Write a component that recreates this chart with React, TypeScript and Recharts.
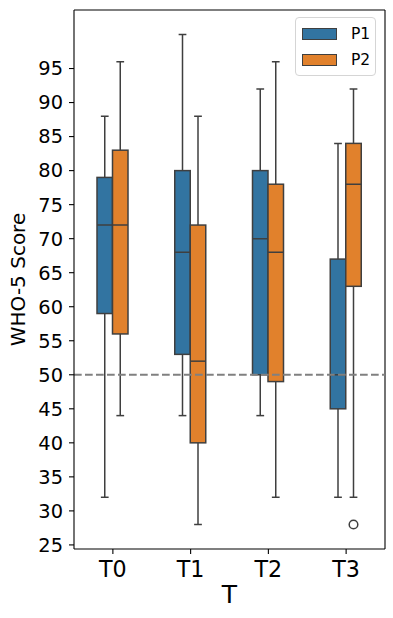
import React from 'react';
import { ComposedChart, Bar, XAxis, YAxis, ReferenceLine, Legend, CartesianGrid } from 'recharts';

// timepoints
const categories = ['T0', 'T1', 'T2', 'T3'];

// P1 box stats (whisker low, Q1, median, Q3, whisker high)
const p1Low = [32, 44, 44, 32];
const p1Q1 = [59, 53, 50, 45];
const p1Median = [72, 68, 70, 50];
const p1Q3 = [79, 80, 80, 67];
const p1High = [88, 100, 92, 84];
const p1Outliers: number[][] = [[], [], [], []];

// P2 box stats
const p2Low = [44, 28, 32, 32];
const p2Q1 = [56, 40, 49, 63];
const p2Median = [72, 52, 68, 78];
const p2Q3 = [83, 72, 78, 84];
const p2High = [96, 88, 96, 92];
const p2Outliers: number[][] = [[], [], [], [28]];

const yTicks = [25, 30, 35, 40, 45, 50, 55, 60, 65, 70, 75, 80, 85, 90, 95];
const threshold = 50;

const BLUE = '#3274a1';
const ORANGE = '#e1812c';
const EDGE = '#3f3f3f';

const seriesList = [
    { key: 'p1', name: 'P1', color: BLUE },
    { key: 'p2', name: 'P2', color: ORANGE },
];

const data = categories.map((cat, i) => ({
    cat,
    p1: { low: p1Low[i], q1: p1Q1[i], med: p1Median[i], q3: p1Q3[i], high: p1High[i], out: p1Outliers[i] },
    p2: { low: p2Low[i], q1: p2Q1[i], med: p2Median[i], q3: p2Q3[i], high: p2High[i], out: p2Outliers[i] },
    p1Range: [Math.min(p1Low[i], ...p1Outliers[i]), p1High[i]],
    p2Range: [Math.min(p2Low[i], ...p2Outliers[i]), p2High[i]],
}));

// bar spans [lowest point, whisker high]; everything else is placed inside that span
const makeBoxShape = (key: string, color: string) => (props: any) => {
    const { x, y, width, height, payload } = props;
    const s = payload[key];
    const [lo, hi] = payload[key + 'Range'];
    const top = Math.min(y, y + height);
    const bot = Math.max(y, y + height);
    const px = (v: number) => top + ((hi - v) / (hi - lo)) * (bot - top);
    const cx = x + width / 2;
    const cap = width / 4;
    return (
        <g>
            <line x1={cx} x2={cx} y1={px(s.high)} y2={px(s.q3)} stroke={EDGE} strokeWidth={1.5} />
            <line x1={cx} x2={cx} y1={px(s.q1)} y2={px(s.low)} stroke={EDGE} strokeWidth={1.5} />
            <line x1={cx - cap} x2={cx + cap} y1={px(s.high)} y2={px(s.high)} stroke={EDGE} strokeWidth={1.5} />
            <line x1={cx - cap} x2={cx + cap} y1={px(s.low)} y2={px(s.low)} stroke={EDGE} strokeWidth={1.5} />
            <rect x={x} y={px(s.q3)} width={width} height={px(s.q1) - px(s.q3)} fill={color} stroke={EDGE} strokeWidth={1.5} />
            <line x1={x} x2={x + width} y1={px(s.med)} y2={px(s.med)} stroke={EDGE} strokeWidth={1.5} />
            {s.out.map((o: number, j: number) => (
                <circle key={j} cx={cx} cy={px(o)} r={4.3} fill="none" stroke={EDGE} strokeWidth={1.5} />
            ))}
        </g>
    );
};

const LegendBox = () => (
    <div
        style={{
            width: 79,
            height: 57,
            border: '1px solid #d5d5d5',
            borderRadius: 4,
            background: 'rgba(255,255,255,0.8)',
            boxSizing: 'content-box',
            position: 'relative',
            fontFamily: '"DejaVu Sans", sans-serif',
        }}
    >
        {seriesList.map((s, i) => (
            <div key={s.key} style={{ position: 'absolute', left: 6, top: 10 + i * 25.5, display: 'flex', alignItems: 'center' }}>
                <div style={{ width: 33, height: 10, background: s.color, border: `1.3px solid ${EDGE}` }} />
                <span style={{ marginLeft: 14, fontSize: 15.5, lineHeight: '12px', color: '#000' }}>{s.name}</span>
            </div>
        ))}
    </div>
);

const renderYLabel = (props: any) => {
    const vb = props.viewBox;
    const cy = vb.y + vb.height / 2;
    return (
        <text x={25} y={cy} transform={`rotate(-90, 25, ${cy})`} textAnchor="middle" fontSize={20} fill="#000">
            WHO-5 Score
        </text>
    );
};

export default function App() {
    return (
        <div style={{ position: 'absolute', left: 0, top: 0, fontFamily: '"DejaVu Sans", sans-serif', background: '#fff' }}>
            <ComposedChart width={393} height={618} data={data} margin={{ top: 10, right: 8, left: 0, bottom: 0 }} barGap={0}>
                {/* top and right spines */}
                <CartesianGrid
                    stroke="#000"
                    strokeWidth={1.1}
                    horizontalCoordinatesGenerator={({ offset }: any) => [offset.top]}
                    verticalCoordinatesGenerator={({ offset }: any) => [offset.left + offset.width]}
                />
                <XAxis
                    dataKey="cat"
                    height={69}
                    tick={{ fill: '#000', fontSize: 22.2 }}
                    tickSize={5}
                    tickMargin={7}
                    axisLine={{ stroke: '#000', strokeWidth: 1.1 }}
                    tickLine={{ stroke: '#000', strokeWidth: 1.1 }}
                    label={{ value: 'T', position: 'insideBottom', offset: 15, fontSize: 25, fill: '#000' }}
                />
                <YAxis
                    type="number"
                    width={74}
                    domain={[24.4, 103.6]}
                    ticks={yTicks}
                    interval={0}
                    allowDataOverflow
                    tick={{ fill: '#000', fontSize: 19.4 }}
                    tickSize={5}
                    tickMargin={6}
                    axisLine={{ stroke: '#000', strokeWidth: 1.1 }}
                    tickLine={{ stroke: '#000', strokeWidth: 1.1 }}
                    label={{ content: renderYLabel }}
                />
                <Legend
                    layout="vertical"
                    align="center"
                    verticalAlign="middle"
                    wrapperStyle={{ top: 17, left: 295, width: 81, height: 59 }}
                    content={() => <LegendBox />}
                />
                {seriesList.map((s) => (
                    <Bar
                        key={s.key}
                        dataKey={s.key + 'Range'}
                        name={s.name}
                        fill={s.color}
                        barSize={15.5}
                        isAnimationActive={false}
                        shape={makeBoxShape(s.key, s.color)}
                    />
                ))}
                <ReferenceLine y={threshold} stroke="#808080" strokeWidth={2} strokeDasharray="7.7 3.3" />
            </ComposedChart>
        </div>
    );
}
